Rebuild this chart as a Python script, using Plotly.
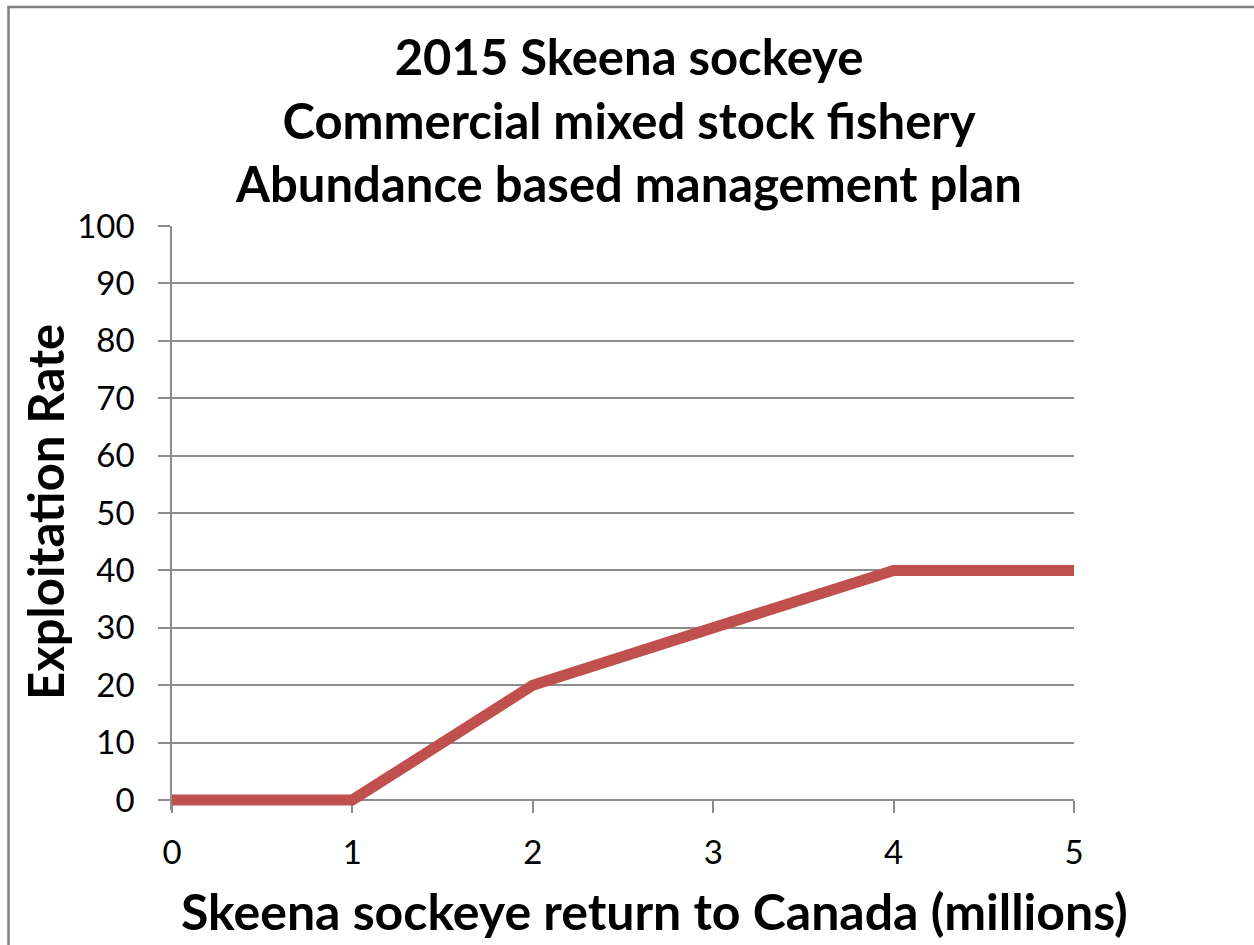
import plotly.graph_objects as go

# Harvest control rule: exploitation rate (%) vs. run size (millions)
returns_millions = [0, 1, 2, 3, 4, 5]
exploitation_rate = [0, 0, 20, 30, 40, 40]

x_ticks = [0, 1, 2, 3, 4, 5]
y_ticks = [0, 10, 20, 30, 40, 50, 60, 70, 80, 90, 100]

title_lines = [
    "2015 Skeena sockeye",
    "Commercial mixed stock fishery",
    "Abundance based management plan",
]
x_title = "Skeena sockeye return to Canada (millions)"
y_title = "Exploitation Rate"

W, H = 1254, 945
ML, MR, MT, MB = 172, 180, 226, 135
PW, PH = W - ML - MR, H - MT - MB
AXIS_BOTTOM_PX = 800  # pixel row of the value 0 on the y axis


def px_x(px):
    return (px - ML) / PW


def px_y(py):
    return (H - MB - py) / PH


grid_col = "#8c8c8c"
font_family = "Lato, 'Open Sans', sans-serif"

# plot area runs a few pixels below 0 so the thick line isn't cut there
y_per_px = 100 / (AXIS_BOTTOM_PX - MT)
y_min = -(H - MB - AXIS_BOTTOM_PX) * y_per_px

fig = go.Figure()

fig.add_trace(
    go.Scatter(
        x=returns_millions,
        y=exploitation_rate,
        mode="lines",
        line=dict(color="#C0504D", width=11),
        hoverinfo="x+y",
        showlegend=False,
    )
)

fig.update_layout(
    width=W,
    height=H,
    margin=dict(l=ML, r=MR, t=MT, b=MB, pad=0),
    paper_bgcolor="white",
    plot_bgcolor="white",
    showlegend=False,
    font=dict(family=font_family, color="#000000"),
    title=dict(
        text="<b>" + "<br>".join(title_lines) + "</b>",
        x=629 / W,
        xanchor="center",
        xref="container",
        y=1 - 75 / H,
        yanchor="top",
        yref="container",
        font=dict(size=49, family=font_family, color="#000000"),
    ),
    xaxis=dict(
        range=[0, 5],
        anchor="free",
        position=px_y(AXIS_BOTTOM_PX),
        tickvals=x_ticks,
        ticktext=[str(v) for v in x_ticks],
        ticks="outside",
        ticklen=12,
        tickwidth=1.5,
        tickcolor=grid_col,
        showline=True,
        linecolor=grid_col,
        linewidth=1.5,
        showgrid=False,
        zeroline=False,
        layer="below traces",
        tickfont=dict(size=33, color="#000000"),
        ticklabelstandoff=12,
        fixedrange=True,
    ),
    yaxis=dict(
        range=[y_min, 100],
        tickvals=y_ticks,
        ticktext=[str(v) for v in y_ticks],
        ticks="outside",
        ticklen=12,
        tickwidth=1.5,
        tickcolor=grid_col,
        showline=True,
        linecolor=grid_col,
        linewidth=1.5,
        showgrid=True,
        gridcolor=grid_col,
        gridwidth=1.5,
        zeroline=False,
        layer="below traces",
        tickfont=dict(size=33, color="#000000"),
        ticklabelstandoff=17,
        fixedrange=True,
    ),
    annotations=[
        dict(
            text="<b>" + x_title + "</b>",
            x=px_x(654),
            y=px_y(911),
            xref="paper",
            yref="paper",
            showarrow=False,
            xanchor="center",
            yanchor="middle",
            font=dict(size=50, family=font_family, color="#000000"),
        ),
        dict(
            text="<b>" + y_title + "</b>",
            x=px_x(45),
            y=px_y(512),
            xref="paper",
            yref="paper",
            showarrow=False,
            textangle=-90,
            xanchor="center",
            yanchor="middle",
            font=dict(size=49, family=font_family, color="#000000"),
        ),
    ],
    shapes=[
        dict(
            type="rect",
            xref="paper",
            yref="paper",
            x0=px_x(8.5),
            x1=px_x(W + 10),
            y0=px_y(H + 10),
            y1=px_y(7),
            line=dict(color="#7f7f7f", width=2.5),
            fillcolor="rgba(0,0,0,0)",
            layer="below",
        )
    ],
)

fig.write_html("out.html")
